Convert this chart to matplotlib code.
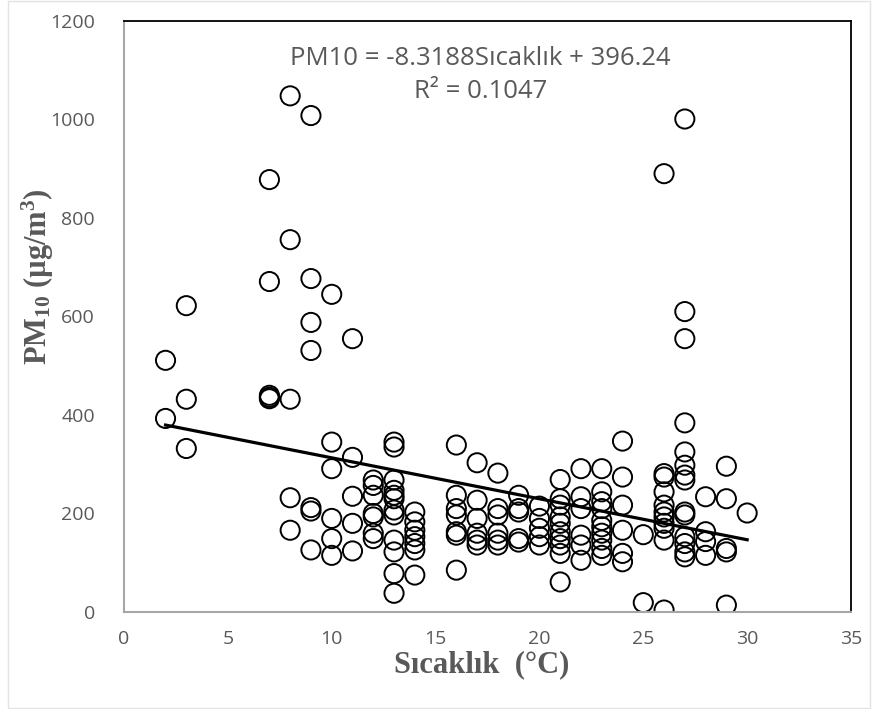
import matplotlib.pyplot as plt
import numpy as np

plt.rcParams['mathtext.fontset'] = 'custom'
plt.rcParams['mathtext.rm'] = 'Liberation Serif:bold'
plt.rcParams['mathtext.it'] = 'Liberation Serif:bold'
plt.rcParams['mathtext.bf'] = 'Liberation Serif:bold'

# temperature (°C) and PM10 readings at each temperature
temps = [2, 3, 7, 8, 9, 10, 11, 12, 13, 14, 16, 17, 18, 19, 20,
         21, 22, 23, 24, 25, 26, 27, 28, 29, 30]
pm10_groups = [
    [511, 393],
    [622, 432, 332],
    [878, 671, 440, 436, 433],
    [1048, 756, 432, 232, 166],
    [1008, 677, 588, 531, 212, 205, 126],
    [645, 345, 291, 190, 149, 115],
    [555, 314, 235, 180, 124],
    [268, 257, 237, 200, 193, 160, 149],
    [345, 335, 268, 247, 237, 230, 207, 197, 146, 122, 78, 38],
    [203, 183, 166, 153, 139, 126, 75],
    [339, 237, 210, 197, 163, 156, 85],
    [303, 227, 190, 160, 146, 136],
    [282, 210, 197, 160, 146, 136],
    [237, 210, 203, 149, 142],
    [215, 190, 170, 153, 136],
    [269, 230, 217, 193, 180, 163, 149, 136, 119, 61],
    [291, 234, 210, 156, 136, 105],
    [291, 244, 224, 210, 186, 173, 160, 146, 129, 115],
    [347, 274, 217, 166, 119, 102],
    [157, 19],
    [890, 281, 274, 244, 217, 203, 193, 180, 170, 146, 4],
    [1001, 610, 555, 384, 325, 298, 278, 268, 203, 197, 153, 139, 122, 112],
    [234, 163, 143, 115],
    [296, 230, 129, 122, 14],
    [201],
]

# trendline coefficients as printed on the chart
slope = -8.3188
intercept = 396.24
r2 = 0.1047

x = np.concatenate([[t] * len(g) for t, g in zip(temps, pm10_groups)])
y = np.concatenate(pm10_groups)

fig = plt.figure(figsize=(8.72, 7.09), dpi=100)
ax = fig.add_axes([124 / 872, 1 - 612 / 709, (851 - 124) / 872, (612 - 21) / 709])

ax.scatter(x, y, s=190, facecolors='none', edgecolors='black', linewidths=1.4, zorder=2)

xl = np.array([x.min(), x.max()])
ax.plot(xl, slope * xl + intercept, color='black', lw=2.3, zorder=3)

ax.set_xlim(0, 35)
ax.set_ylim(0, 1200)
ax.set_xticks(range(0, 36, 5))
ax.set_yticks(range(0, 1201, 200))

gray = '#595959'
ax.tick_params(axis='both', length=0, labelsize=14, labelcolor=gray)
ax.tick_params(axis='y', pad=21)
ax.tick_params(axis='x', pad=13)
for lbl in ax.get_xticklabels() + ax.get_yticklabels():
    lbl.set_fontfamily('Open Sans')

for side in ['left', 'bottom']:
    ax.spines[side].set_color('#a6a6a6')
    ax.spines[side].set_linewidth(1.5)
for side in ['top', 'right']:
    ax.spines[side].set_color('black')
    ax.spines[side].set_linewidth(1.3)

ax.text(0.49, 0.936, f'PM10 = {slope}Sıcaklık + {intercept}', transform=ax.transAxes,
        ha='center', va='center', fontsize=18.5, color=gray, family='Open Sans')
ax.text(0.49, 0.880, f'R² = {r2}', transform=ax.transAxes,
        ha='center', va='center', fontsize=18.5, color=gray, family='Open Sans')

fig.text(482 / 872, 1 - 665 / 709, 'Sıcaklık  (°C)', ha='center', va='center',
         fontsize=22, fontweight='bold', family='Liberation Serif', color=gray)
fig.text(38 / 872, 1 - 277 / 709, 'PM$_{10}$ (µg/m$^{3}$)', ha='center', va='center',
         rotation=90, fontsize=22, fontweight='bold', family='Liberation Serif', color=gray)

# faint page border
fig.add_artist(plt.Rectangle((8 / 872, 0.002), 1 - 10 / 872, 0.996, transform=fig.transFigure,
                             fill=False, edgecolor='#e3e3e3', lw=1))

fig.savefig('out.png', dpi=100)
